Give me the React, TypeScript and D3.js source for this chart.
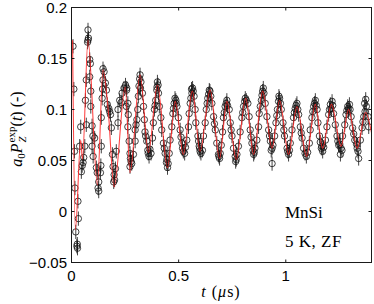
import React from 'react';
import * as d3 from 'd3';

const xTicks = [0, 0.5, 1];
const xTickLabels = ['0', '0.5', '1'];
const yTicks = [-0.05, 0, 0.05, 0.1, 0.15, 0.2];
const yTickLabels = ['\u22120.05', '0', '0.05', '0.1', '0.15', '0.2'];

// fit curve vertices (t in microseconds, a0 Pz)
const fitCurve: [number, number][] = [
  [0.005, 0.168], [0.018, -0.018], [0.043, 0.070], [0.051, 0.051], [0.077, 0.168],
  [0.121, 0.026], [0.147, 0.139], [0.171, 0.100], [0.199, 0.024], [0.251, 0.122],
  [0.273, 0.038], [0.320, 0.134], [0.359, 0.058], [0.401, 0.124], [0.448, 0.043],
  [0.484, 0.108], [0.522, 0.056], [0.564, 0.118], [0.600, 0.059], [0.647, 0.119],
  [0.691, 0.052], [0.725, 0.108], [0.769, 0.051], [0.813, 0.111], [0.850, 0.056],
  [0.892, 0.118], [0.936, 0.062], [0.971, 0.109], [1.013, 0.056], [1.052, 0.103],
  [1.097, 0.054], [1.138, 0.105], [1.172, 0.062], [1.213, 0.105], [1.258, 0.064],
  [1.293, 0.100], [1.333, 0.062], [1.372, 0.097], [1.402, 0.075],
];

// measured points
const observed: [number, number][] = [
  [0.007, 0.162], [0.011, 0.120], [0.014, 0.059], [0.016, 0.023], [0.030, 0.010], [0.032, -0.007],
  [0.020, -0.020], [0.027, -0.032], [0.028, -0.036], [0.025, -0.034],
  [0.038, 0.064], [0.043, 0.083], [0.046, 0.039], [0.054, 0.048], [0.057, 0.053], [0.050, 0.045],
  [0.062, 0.064], [0.065, 0.109], [0.069, 0.085], [0.069, 0.129], [0.075, 0.166], [0.077, 0.168],
  [0.077, 0.178], [0.079, 0.170],
  [0.085, 0.149], [0.088, 0.145], [0.085, 0.132], [0.090, 0.118], [0.090, 0.103], [0.096, 0.084],
  [0.100, 0.074], [0.108, 0.072], [0.096, 0.064], [0.101, 0.054], [0.116, 0.043], [0.120, 0.038],
  [0.127, 0.029], [0.127, 0.020], [0.124, 0.023], [0.135, 0.038], [0.137, 0.045],
  [0.139, 0.064], [0.139, 0.092], [0.143, 0.111], [0.145, 0.120], [0.147, 0.129], [0.147, 0.140],
  [0.152, 0.137],
  [0.158, 0.126], [0.163, 0.119], [0.167, 0.105], [0.174, 0.101], [0.178, 0.098], [0.182, 0.095],
  [0.186, 0.082], [0.191, 0.056], [0.194, 0.044], [0.199, 0.036], [0.197, 0.029], [0.201, 0.031],
  [0.205, 0.042], [0.209, 0.059],
  [0.217, 0.087], [0.217, 0.100], [0.225, 0.109], [0.232, 0.107], [0.236, 0.116], [0.245, 0.121],
  [0.252, 0.124], [0.257, 0.119], [0.256, 0.103],
  [0.258, 0.121], [0.263, 0.106], [0.265, 0.095], [0.263, 0.083], [0.269, 0.069], [0.273, 0.057],
  [0.278, 0.049], [0.273, 0.044],
  [0.289, 0.056], [0.297, 0.069], [0.297, 0.080], [0.305, 0.090], [0.309, 0.100], [0.312, 0.113],
  [0.315, 0.123], [0.320, 0.134], [0.324, 0.127],
  [0.331, 0.116], [0.336, 0.103], [0.340, 0.090], [0.343, 0.078], [0.351, 0.069], [0.356, 0.060],
  [0.362, 0.054], [0.371, 0.057],
  [0.378, 0.072], [0.382, 0.087], [0.387, 0.100], [0.393, 0.109], [0.398, 0.119], [0.401, 0.127],
  [0.406, 0.116],
  [0.410, 0.103], [0.417, 0.092], [0.421, 0.080], [0.429, 0.067], [0.437, 0.057], [0.445, 0.051],
  [0.448, 0.043],
  [0.456, 0.057], [0.460, 0.070], [0.468, 0.083], [0.473, 0.096], [0.479, 0.106], [0.487, 0.109],
  [0.492, 0.103],
  [0.499, 0.092], [0.507, 0.080], [0.515, 0.067], [0.522, 0.059],
  [0.538, 0.070], [0.546, 0.083], [0.549, 0.096],
  [0.554, 0.106], [0.562, 0.116], [0.565, 0.121], [0.572, 0.113],
  [0.577, 0.100], [0.580, 0.087], [0.590, 0.074], [0.596, 0.064], [0.600, 0.059], [0.611, 0.060],
  [0.616, 0.074], [0.624, 0.087], [0.629, 0.100], [0.636, 0.111], [0.643, 0.119], [0.646, 0.118],
  [0.655, 0.106], [0.663, 0.093], [0.671, 0.080], [0.678, 0.067], [0.686, 0.056], [0.691, 0.052],
  [0.699, 0.065], [0.705, 0.078], [0.709, 0.092], [0.717, 0.103], [0.725, 0.109],
  [0.736, 0.100], [0.741, 0.087], [0.749, 0.074], [0.756, 0.062], [0.764, 0.054], [0.769, 0.051],
  [0.779, 0.064], [0.787, 0.078], [0.795, 0.092], [0.803, 0.103], [0.811, 0.111],
  [0.823, 0.106], [0.829, 0.093], [0.834, 0.080], [0.842, 0.067], [0.850, 0.056], [0.853, 0.058],
  [0.865, 0.070], [0.873, 0.083], [0.876, 0.096], [0.886, 0.109], [0.892, 0.118], [0.895, 0.121],
  [0.904, 0.106], [0.912, 0.093], [0.920, 0.080], [0.928, 0.069], [0.936, 0.062], [0.936, 0.047],
  [0.948, 0.074], [0.954, 0.087], [0.961, 0.100], [0.966, 0.108], [0.971, 0.111],
  [0.979, 0.100], [0.987, 0.087], [0.994, 0.074], [1.006, 0.062], [1.013, 0.056],
  [1.021, 0.067], [1.029, 0.080], [1.036, 0.092], [1.044, 0.101], [1.052, 0.106],
  [1.060, 0.095], [1.068, 0.083], [1.076, 0.072], [1.083, 0.062], [1.096, 0.054],
  [1.110, 0.067], [1.114, 0.080], [1.122, 0.092], [1.130, 0.103], [1.138, 0.109],
  [1.146, 0.100], [1.150, 0.087], [1.157, 0.074], [1.166, 0.062], [1.172, 0.059],
  [1.185, 0.070], [1.192, 0.083], [1.200, 0.095], [1.208, 0.105], [1.216, 0.108],
  [1.223, 0.096], [1.231, 0.085], [1.239, 0.074], [1.247, 0.065], [1.258, 0.062], [1.255, 0.056],
  [1.265, 0.074], [1.275, 0.085], [1.281, 0.095], [1.289, 0.103], [1.297, 0.105],
  [1.305, 0.093], [1.312, 0.082], [1.322, 0.070], [1.333, 0.062], [1.340, 0.052],
  [1.348, 0.070], [1.356, 0.082], [1.364, 0.093], [1.368, 0.106], [1.376, 0.103],
  [1.384, 0.093], [1.387, 0.083],
  // clustered points around the extrema
  [0.275, 0.052], [0.281, 0.047], [0.318, 0.130], [0.322, 0.121], [0.358, 0.057], [0.366, 0.061],
  [0.399, 0.122], [0.404, 0.124], [0.443, 0.048], [0.451, 0.047], [0.483, 0.111], [0.489, 0.106],
  [0.518, 0.062], [0.528, 0.057], [0.532, 0.063], [0.560, 0.120], [0.568, 0.118], [0.598, 0.062],
  [0.604, 0.057], [0.640, 0.115], [0.650, 0.113], [0.688, 0.054], [0.694, 0.057], [0.722, 0.106],
  [0.728, 0.104], [0.766, 0.049], [0.772, 0.056], [0.808, 0.108], [0.816, 0.109], [0.847, 0.060],
  [0.856, 0.062], [0.889, 0.114], [0.898, 0.116], [0.932, 0.060], [0.940, 0.065], [0.968, 0.113],
  [0.975, 0.106], [1.009, 0.059], [1.017, 0.060], [1.048, 0.104], [1.056, 0.100], [1.090, 0.057],
  [1.102, 0.058], [1.134, 0.106], [1.142, 0.104], [1.168, 0.064], [1.177, 0.063], [1.211, 0.101],
  [1.219, 0.104], [1.252, 0.066], [1.262, 0.060], [1.292, 0.101], [1.300, 0.100], [1.330, 0.066],
  [1.337, 0.059], [1.370, 0.098], [1.373, 0.110],
  // additional points along the slopes
  [0.301, 0.085], [0.346, 0.074], [0.390, 0.104], [0.433, 0.062], [0.476, 0.101], [0.511, 0.073],
  [0.557, 0.111], [0.593, 0.069], [0.633, 0.106], [0.667, 0.086], [0.713, 0.097], [0.745, 0.080],
  [0.799, 0.097], [0.838, 0.073], [0.881, 0.103], [0.924, 0.074], [0.958, 0.094], [0.991, 0.080],
  [1.040, 0.097], [1.072, 0.077], [1.126, 0.098], [1.161, 0.068], [1.204, 0.100], [1.243, 0.069],
  [1.285, 0.099], [1.317, 0.076], [1.360, 0.088],
];

const errBar = 0.007;

export default function App() {
  const W = 374;
  const H = 304;
  const left = 71.5, right = 371.5, top = 7.5, bottom = 262.5;
  const x = d3.scaleLinear().domain([0, 1.4]).range([left, right]);
  const y = d3.scaleLinear().domain([-0.05, 0.2]).range([bottom, top]);
  const line = d3
    .line<[number, number]>()
    .x((d) => x(d[0]))
    .y((d) => y(d[1]))
    .curve(d3.curveMonotoneX);
  const axisColor = '#1a1a1a';
  const sans = '"Liberation Sans", Arial, Helvetica, sans-serif';
  const serif = '"Liberation Serif", "Times New Roman", serif';

  return (
    <svg
      width={W}
      height={H}
      viewBox={`0 0 ${W} ${H}`}
      style={{ position: 'absolute', left: 0, top: 0, background: '#fff' }}
    >
      <defs>
        <clipPath id="plotClip">
          <rect x={left} y={top} width={right - left} height={bottom - top} />
        </clipPath>
      </defs>
      <rect x={0} y={0} width={W} height={H} fill="#fff" />
      <g clipPath="url(#plotClip)">
        {observed.map((d, i) => (
          <g key={i} stroke="#111" strokeWidth={0.8} fill="none">
            <line
              x1={x(d[0])}
              x2={x(d[0])}
              y1={y(d[1] - errBar)}
              y2={y(d[1] + errBar)}
            />
            <circle cx={x(d[0])} cy={y(d[1])} r={3.2} />
          </g>
        ))}
        <path d={line(fitCurve) || ''} fill="none" stroke="#f22" strokeOpacity={0.85} strokeWidth={1.1} />
      </g>
      {/* frame */}
      <rect
        x={left}
        y={top}
        width={right - left}
        height={bottom - top}
        fill="none"
        stroke={axisColor}
        strokeWidth={1}
      />
      {/* x ticks */}
      {xTicks.map((t, i) => (
        <g key={'xt' + i}>
          <line x1={x(t)} x2={x(t)} y1={bottom} y2={bottom - 3} stroke={axisColor} />
          <line x1={x(t)} x2={x(t)} y1={top} y2={top + 3} stroke={axisColor} />
          <text
            x={x(t)}
            y={281}
            textAnchor="middle"
            fontFamily={sans}
            fontSize={15}
            fill="#000"
          >
            {xTickLabels[i]}
          </text>
        </g>
      ))}
      {/* y ticks */}
      {yTicks.map((t, i) => (
        <g key={'yt' + i}>
          <line x1={left} x2={left + 3} y1={y(t)} y2={y(t)} stroke={axisColor} />
          <line x1={right} x2={right - 3} y1={y(t)} y2={y(t)} stroke={axisColor} />
          <text
            x={67}
            y={y(t) + 5.3}
            textAnchor="end"
            fontFamily={sans}
            fontSize={15}
            fill="#000"
          >
            {yTickLabels[i]}
          </text>
        </g>
      ))}
      {/* y label */}
      <g transform="translate(22,129) rotate(-90)">
        <text textAnchor="middle" fontFamily={serif} fontSize={16} fill="#000">
          <tspan fontStyle="italic">a</tspan>
          <tspan fontSize={11} dy={3}>0</tspan>
          <tspan fontStyle="italic" dy={-3}>P</tspan>
          <tspan fontSize={11} dx={1} dy={-7}>exp</tspan>
          <tspan fontSize={11} fontStyle="italic" dx={-16} dy={11}>Z</tspan>
          <tspan dx={10} dy={-4}>(</tspan>
          <tspan fontStyle="italic">t</tspan>
          <tspan>) (-)</tspan>
        </text>
      </g>
      {/* x label */}
      <text x={221} y={297} textAnchor="middle" fontFamily={serif} fontSize={16} fill="#000" letterSpacing={1}>
        <tspan fontStyle="italic">t</tspan>
        <tspan> (</tspan>
        <tspan fontStyle="italic">μ</tspan>
        <tspan>s)</tspan>
      </text>
      {/* annotations */}
      <text x={285} y={218} fontFamily={serif} fontSize={17} fill="#000">
        MnSi
      </text>
      <text x={285} y={247} fontFamily={serif} fontSize={17} fill="#000" letterSpacing={0.5}>
        5 K, ZF
      </text>
    </svg>
  );
}
